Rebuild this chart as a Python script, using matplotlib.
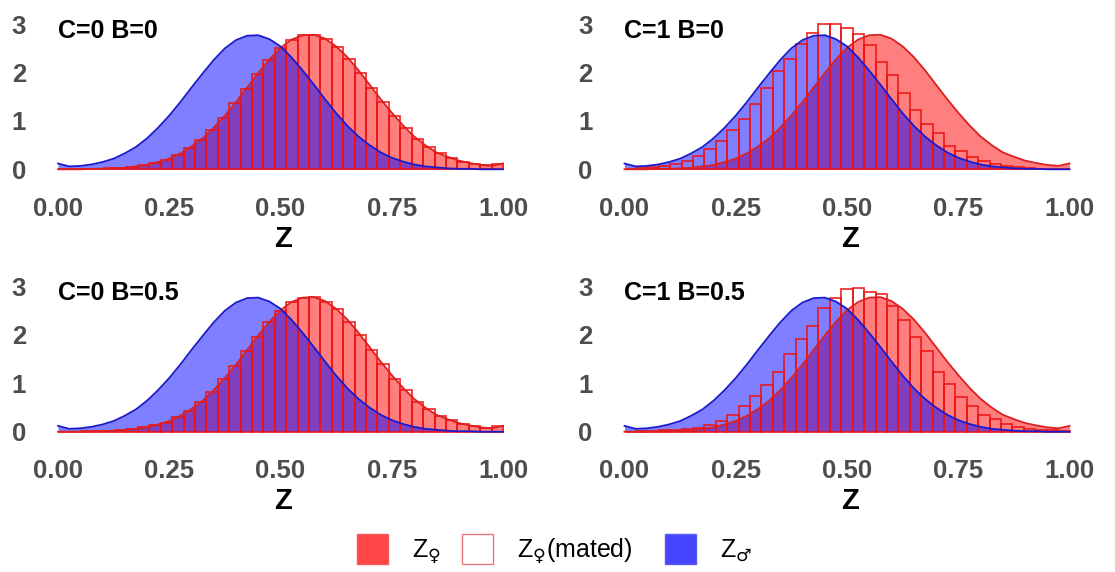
import matplotlib.pyplot as plt
import numpy as np
from matplotlib.patches import Rectangle

plt.rcParams['font.family'] = ['Liberation Sans', 'DejaVu Sans']
plt.rcParams['mathtext.fontset'] = 'dejavusans'

# density grid and histogram bins
z_grid = np.linspace(0, 1, 41)
n_bins = 39
bin_left = np.arange(n_bins) / n_bins

dens_male = [0.12, 0.06, 0.07, 0.10, 0.15, 0.22, 0.33, 0.46, 0.64, 0.86,
             1.11, 1.39, 1.69, 1.98, 2.26, 2.50, 2.67, 2.76, 2.77, 2.69,
             2.54, 2.31, 2.04, 1.75, 1.45, 1.16, 0.90, 0.68, 0.50, 0.35,
             0.24, 0.16, 0.10, 0.06, 0.04, 0.02, 0.01, 0.01, 0.00, 0.00, 0.00]
dens_female = [0.00, 0.00, 0.00, 0.01, 0.01, 0.02, 0.03, 0.06, 0.09, 0.15,
               0.22, 0.33, 0.47, 0.64, 0.86, 1.11, 1.39, 1.69, 1.99, 2.27,
               2.51, 2.68, 2.77, 2.78, 2.70, 2.54, 2.32, 2.05, 1.75, 1.45,
               1.17, 0.91, 0.68, 0.50, 0.35, 0.26, 0.18, 0.13, 0.09, 0.07, 0.12]

# mated-female histograms (density per bin)
mated = {
    'C=0 B=0': [0.00, 0.00, 0.00, 0.01, 0.02, 0.03, 0.05, 0.08, 0.13, 0.20,
                0.30, 0.43, 0.61, 0.82, 1.07, 1.36, 1.66, 1.97, 2.26, 2.50,
                2.67, 2.77, 2.78, 2.69, 2.52, 2.28, 1.99, 1.69, 1.39, 1.10,
                0.85, 0.63, 0.46, 0.33, 0.23, 0.16, 0.11, 0.08, 0.11],
    'C=1 B=0': [0.01, 0.02, 0.04, 0.07, 0.11, 0.17, 0.27, 0.41, 0.58, 0.82,
                1.03, 1.34, 1.68, 2.03, 2.28, 2.59, 2.82, 3.00, 3.00, 2.92,
                2.80, 2.56, 2.22, 1.94, 1.58, 1.22, 0.94, 0.74, 0.49, 0.38,
                0.25, 0.17, 0.10, 0.07, 0.04, 0.02, 0.01, 0.01, 0.00],
    'C=0 B=0.5': [0.00, 0.00, 0.01, 0.01, 0.02, 0.03, 0.05, 0.09, 0.13, 0.19,
                  0.31, 0.42, 0.62, 0.81, 1.08, 1.35, 1.67, 1.96, 2.27, 2.49,
                  2.68, 2.76, 2.79, 2.68, 2.53, 2.27, 2.00, 1.68, 1.40, 1.09,
                  0.86, 0.62, 0.47, 0.32, 0.24, 0.15, 0.11, 0.07, 0.12],
    'C=1 B=0.5': [0.00, 0.01, 0.02, 0.03, 0.04, 0.06, 0.08, 0.14, 0.22, 0.35,
                  0.53, 0.74, 0.97, 1.24, 1.60, 1.92, 2.18, 2.55, 2.77, 2.95,
                  2.97, 2.89, 2.85, 2.60, 2.31, 1.96, 1.67, 1.23, 0.99, 0.72,
                  0.54, 0.34, 0.26, 0.15, 0.10, 0.06, 0.04, 0.03, 0.02],
}

x_ticks = [0, 0.25, 0.5, 0.75, 1.0]
x_ticklabels = ['0.00', '0.25', '0.50', '0.75', '1.00']
y_ticks = [0, 1, 2, 3]

legend_labels = ['Z$_{♀}$', 'Z$_{♀}$(mated)', 'Z$_{♂}$']
legend_faces = ['#ff4646', 'white', '#4646ff']
legend_edges = ['#f25a5a', '#e87878', '#5a5af2']

W, H = 1115, 572
PX, PY = 445.0, 48.4   # pixels per data unit
fig = plt.figure(figsize=(W / 100, H / 100), dpi=100)


def fx(px):
    return px / W


def fy(py):
    return 1 - py / H


# (panel, x of z=0 in px, y of density 0 in px)
panels = [('C=0 B=0', 58, 169.3), ('C=1 B=0', 624.5, 169.3),
          ('C=0 B=0.5', 58, 431.7), ('C=1 B=0.5', 624.5, 431.7)]

for name, x0, y0 in panels:
    left = x0 - 0.05 * PX
    width = 1.1 * PX
    top = y0 - 3.15 * PY
    height = 3.3 * PY
    ax = fig.add_axes([fx(left), fy(top + height), width / W, height / H])
    ax.set_xlim(-0.05, 1.05)
    ax.set_ylim(-0.15, 3.15)
    for s in ax.spines.values():
        s.set_visible(False)

    ax.fill_between(z_grid, dens_female, 0, color='#ff0000', alpha=0.5, lw=0)
    ax.plot(z_grid, dens_female, color='#dd1f1f', lw=1.3)
    ax.fill_between(z_grid, dens_male, 0, color='#0000ff', alpha=0.5, lw=0)
    ax.plot(z_grid, dens_male, color='#1a1acc', lw=1.3)
    ax.bar(bin_left, mated[name], width=1 / n_bins, align='edge',
           facecolor='none', edgecolor='#ee1111', alpha=0.85, lw=1.3)

    ax.text(0.0, 2.72, name, fontsize=18, fontweight='bold', color='black',
            ha='left', va='baseline')

    ax.set_xticks(x_ticks)
    ax.set_xticklabels(x_ticklabels)
    ax.set_yticks(y_ticks)
    ax.tick_params(length=0, labelsize=18.5, labelcolor='#4d4d4d')
    ax.tick_params(axis='x', pad=14.5)
    ax.tick_params(axis='y', pad=7)
    for lab in ax.get_xticklabels() + ax.get_yticklabels():
        lab.set_fontweight('bold')

    fig.text(fx(x0 + 0.5 * PX + 3), fy(y0 + 69.5), 'Z', fontsize=21,
             fontweight='bold', ha='center', va='center')

# legend along the bottom
key_x = [357, 462, 665]
text_x = [412, 517, 720]
for kx, tx, lab, fc, ec in zip(key_x, text_x, legend_labels,
                               legend_faces, legend_edges):
    fig.add_artist(Rectangle((fx(kx), fy(564)), 31 / W, 30 / H,
                             transform=fig.transFigure, facecolor=fc,
                             edgecolor=ec, lw=1.0))
    fig.text(fx(tx), fy(556.5), lab, fontsize=18, ha='left', va='baseline')

fig.savefig('out.png', dpi=100)
